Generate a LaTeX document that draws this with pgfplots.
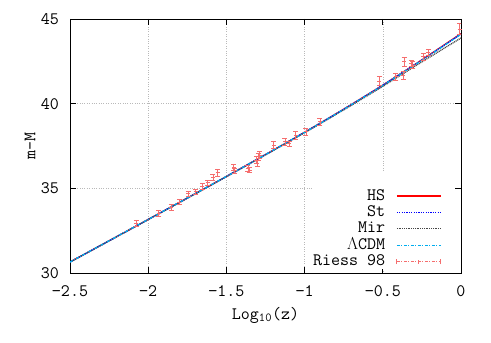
\documentclass[border=0pt]{standalone}
\usepackage{fontspec}
\setmainfont{Latin Modern Mono}
\usepackage{pgfplots}
\pgfplotsset{compat=1.18}

\pgfplotstableread{
x      y
-2.5   30.664
-2.25  31.918
-2.0   33.175
-1.75  34.438
-1.5   35.711
-1.25  37.001
-1.0   38.315
-0.75  39.672
-0.5   41.087
-0.25  42.568
0.0    44.100
}\lcdm
\pgfplotstableread{
x      y
-2.5   30.664
-2.25  31.918
-2.0   33.175
-1.75  34.438
-1.5   35.712
-1.25  37.003
-1.0   38.320
-0.75  39.682
-0.5   41.102
-0.25  42.592
0.0    44.140
}\hs
\pgfplotstableread{
x      y
-2.5   30.664
-2.25  31.918
-2.0   33.175
-1.75  34.438
-1.5   35.712
-1.25  37.002
-1.0   38.318
-0.75  39.678
-0.5   41.096
-0.25  42.582
0.0    44.120
}\st
\pgfplotstableread{
x      y
-2.5   30.660
-2.25  31.914
-2.0   33.170
-1.75  34.430
-1.5   35.700
-1.25  36.985
-1.0   38.295
-0.75  39.640
-0.5   41.030
-0.25  42.470
0.0    43.880
}\mir
\pgfplotstableread{
x       y      e
-2.077  32.96  0.18
-1.932  33.55  0.17
-1.853  33.90  0.15
-1.800  34.20  0.15
-1.744  34.69  0.15
-1.697  34.82  0.15
-1.654  35.15  0.17
-1.620  35.35  0.17
-1.586  35.68  0.17
-1.556  35.93  0.20
-1.453  36.26  0.20
-1.447  36.06  0.15
-1.362  36.20  0.15
-1.351  36.10  0.15
-1.308  36.69  0.20
-1.297  36.90  0.20
-1.287  36.98  0.20
-1.304  36.49  0.20
-1.197  37.57  0.20
-1.126  37.77  0.20
-1.099  37.67  0.15
-1.056  38.16  0.25
-0.992  38.36  0.20
-0.902  38.95  0.20
-0.522  41.35  0.25
-0.417  41.60  0.20
-0.368  41.70  0.25
-0.364  42.48  0.25
-0.319  42.39  0.20
-0.308  42.29  0.20
-0.240  42.78  0.20
-0.208  43.04  0.20
-0.009  44.41  0.32
}\riess

\definecolor{cRiess}{RGB}{245,110,110}
\definecolor{cMir}{RGB}{70,70,70}
\pgfplotsset{
    imgHS/.style={legend image code/.code={\draw[red, line width=1.3bp] (0,0)--(44bp,0); \path (57bp,0);}},
    imgSt/.style={legend image code/.code={\draw[blue, line width=1.3bp, dash pattern=on 1.2bp off 1.2bp] (0,0)--(44bp,0); \path (57bp,0);}},
    imgMir/.style={legend image code/.code={\draw[cMir, line width=1.1bp, dash pattern=on 1bp off 0.8bp] (0,0)--(44bp,0); \path (57bp,0);}},
    imgL/.style={legend image code/.code={\draw[cyan, line width=1.3bp, dash pattern=on 3bp off 1.5bp on 1bp off 1.5bp] (0,0)--(44bp,0); \path (57bp,0);}},
    imgR/.style={legend image code/.code={
        \draw[cRiess, line width=0.7bp, dash pattern=on 3bp off 1.5bp on 1bp off 1.5bp] (0,0)--(44bp,0);
        \draw[cRiess, line width=0.7bp] (0,-2.5bp)--(0,2.5bp) (44bp,-2.5bp)--(44bp,2.5bp)
            (22bp,-2bp)--(22bp,2bp);
        \path (57bp,0);}},
}

\begin{document}
\begin{tikzpicture}[font=\fontsize{17.5bp}{19bp}\selectfont]
\useasboundingbox (0,0) rectangle (491bp,343bp);
\begin{axis}[
    at={(70bp,69.7bp)}, anchor=south west,
    scale only axis, width=391bp, height=254.3bp,
    xmin=-2.5, xmax=0, ymin=30, ymax=45,
    xtick={-2.5,-2,-1.5,-1,-0.5,0},
    xticklabels={−2.5,−2,−1.5,−1,−0.5,0},
    ytick={30,35,40,45},
    yticklabels={30,35,40,45},
    major tick length=6bp,
    tick style={black, line width=0.8bp},
    axis line style={line width=0.9bp},
    grid=major,
    major grid style={gray!55, dotted, line width=0.6bp},
    xticklabel style={anchor=base, inner sep=0pt, yshift=-23bp},
    yticklabel style={anchor=east, inner sep=0pt, xshift=-11bp},
    xlabel={Log\textsubscript{10}(z)},
    ylabel={m-M},
    xlabel style={at={(axis description cs:0.5,-0.164)}, anchor=center},
    ylabel style={at={(axis description cs:-0.102,0.5)}, anchor=center, rotate=0},
    legend plot pos=right,
    legend cell align=right,
    legend style={at={(axis description cs:0.984,0.0157)}, anchor=south east,
        fill=white, draw=none, inner xsep=0pt, inner ysep=0pt,
        row sep=1.5bp, column sep=11bp,
        nodes={inner sep=0pt, text height=11.5bp, text depth=3.4bp}},
]
\addlegendimage{empty legend}
\addlegendentry{}
\addplot[red, line width=1.3bp, smooth, imgHS] table[x=x,y=y]{\hs};
\addlegendentry{HS}
\addplot[blue, line width=1.3bp, dash pattern=on 1.2bp off 1.2bp, smooth, imgSt] table[x=x,y=y]{\st};
\addlegendentry{St}
\addplot[cMir, line width=1.3bp, dash pattern=on 1bp off 0.8bp, smooth, imgMir] table[x=x,y=y]{\mir};
\addlegendentry{Mir}
\addplot[cyan, line width=1.4bp, dash pattern=on 3bp off 1.5bp on 1bp off 1.5bp, smooth, imgL] table[x=x,y=y]{\lcdm};
\addlegendentry{$\Lambda$CDM}
\addplot[cRiess, only marks, mark=+, mark size=2bp, line width=0.7bp, imgR,
    error bars/.cd, y dir=both, y explicit,
    error bar style={cRiess, line width=0.7bp},
    error mark options={cRiess, mark size=2.5bp, rotate=90}]
    table[x=x,y=y,y error=e]{\riess};
\addlegendentry{Riess 98}
\end{axis}
\end{tikzpicture}
\end{document}
